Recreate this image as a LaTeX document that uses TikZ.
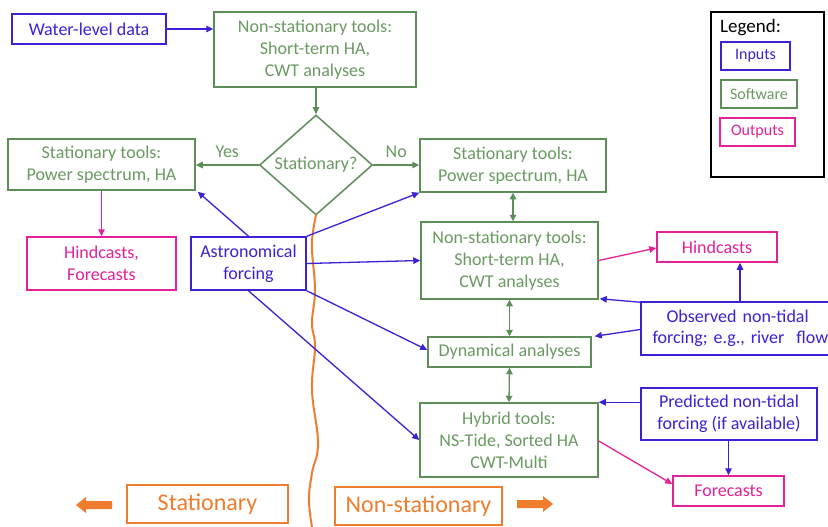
\documentclass[tikz,border=0pt]{standalone}
\usepackage{fontspec}
\setmainfont{Carlito}
\usetikzlibrary{arrows.meta,shapes.geometric,calc}
\definecolor{cin}{HTML}{3B22D4}
\definecolor{csw}{HTML}{5E8E58}
\definecolor{cswt}{HTML}{6A9A62}
\definecolor{cout}{HTML}{E5219A}
\definecolor{cor}{HTML}{EF7D2E}
\begin{document}
\begin{tikzpicture}[x=1pt,y=-1pt,
  box/.style={draw,line width=1.5pt,align=center,inner sep=1pt,font=\fontsize{18}{22}\selectfont},
  inp/.style={box,draw=cin,text=cin},
  sw/.style={box,draw=csw,text=cswt},
  outp/.style={box,draw=cout,text=cout},
  orbox/.style={draw=cor,line width=1.5pt,text=cor,font=\fontsize{24}{26}\selectfont,inner sep=0pt},
  ar/.style={line width=1.3pt,-{Triangle[length=7pt,width=6.5pt]}},
  ia/.style={ar,draw=cin},
  ga/.style={line width=1.3pt,{Triangle[length=6.5pt,width=6.5pt]}-{Triangle[length=6.5pt,width=6.5pt]},draw=csw},
  gs/.style={ar,draw=csw},
  ma/.style={ar,draw=cout},
  lg/.style={box,line width=1.7pt,font=\fontsize{16}{18}\selectfont,minimum height=28pt}
]
\clip (0,0) rectangle (828,527);
\fill[white] (0,0) rectangle (828,527);

% nodes
\node[inp,minimum width=154pt,minimum height=30pt] (wl) at (89,29) {Water-level data};
\node[sw,minimum width=202pt,minimum height=75pt] (ns1) at (315,49.5) {Non-stationary tools:\\Short-term HA,\\CWT analyses};
\node[diamond,draw=csw,line width=1.5pt,text=cswt,inner sep=0pt,minimum width=113pt,minimum height=100pt,font=\fontsize{18}{20}\selectfont] (dia) at (316,165) {Stationary?};
\node[sw,minimum width=187pt,minimum height=51pt] (stL) at (101.5,164.5) {Stationary tools:\\Power spectrum, HA};
\node[sw,minimum width=186pt,minimum height=53pt] (stR) at (513,165.5) {Stationary tools:\\Power spectrum, HA};
\node[outp,minimum width=149pt,minimum height=53pt] (hf) at (101.5,263.5) {Hindcasts,\\Forecasts};
\node[inp,minimum width=115pt,minimum height=53pt] (astro) at (248.5,263.5) {Astronomical\\forcing};
\node[sw,minimum width=177pt,minimum height=77pt] (ns2) at (509.5,260.5) {Non-stationary tools:\\Short-term HA,\\CWT analyses};
\node[outp,minimum width=120pt,minimum height=30pt] (hind) at (717,247) {Hindcasts};
\node[inp,minimum width=195pt,minimum height=53pt,text width=190pt,align=left] (obs) at (738.5,328.5) {\hspace*{23pt}Observed non-tidal\\[-1pt]\hspace*{9pt}forcing; e.g., river\ \ flow};
\node[sw,minimum width=163pt,minimum height=30pt] (dyn) at (509.5,352) {Dynamical analyses};
\node[sw,minimum width=178pt,minimum height=74pt] (hyb) at (509,440) {Hybrid tools:\\NS-Tide, Sorted HA\\CWT-Multi};
\node[inp,minimum width=176pt,minimum height=52pt] (pred) at (729,414) {Predicted non-tidal\\forcing (if available)};
\node[outp,minimum width=111pt,minimum height=30pt] (fc) at (728.5,491) {Forecasts};
\node[orbox,minimum width=161pt,minimum height=38pt] (ost) at (207.5,504) {Stationary};
\node[orbox,minimum width=167pt,minimum height=38pt] (ons) at (418.5,506) {Non-stationary};

% legend
\node[draw=black,line width=2.4pt,minimum width=113pt,minimum height=165pt,inner sep=0pt] (leg) at (767.5,94.5) {};
\node[anchor=west,inner sep=0pt,font=\fontsize{19}{20}\selectfont] (legt) at (720,28) {Legend:};
\node[lg,draw=cin,text=cin,minimum width=69pt] (lin) at (755.5,56) {Inputs};
\node[lg,draw=csw,text=cswt,minimum width=76pt] (lsw) at (759,94) {Software};
\node[lg,draw=cout,text=cout,minimum width=75pt] (lout) at (757.5,132) {Outputs};

% orange wavy divider
\draw[cor,line width=2pt,line cap=round] plot[smooth,tension=0.7] coordinates {(316,215) (313,232) (312,250) (315,290) (312,323) (315,347) (312,390) (318,443) (312,473) (309,500) (312,527)};

% orange block arrows
\fill[cor] (76,505) -- (86,497) -- (86,501) -- (112,501) -- (112,509) -- (86,509) -- (86,513) -- cycle;
\coordinate (la) at (76,505);
\fill[cor] (553,504) -- (543,496) -- (543,500) -- (517,500) -- (517,508) -- (543,508) -- (543,512) -- cycle;
\coordinate (ra) at (553,504);

% connectors
\draw[ia] (wl.east) -- (ns1.west |- wl.east);
\draw[gs] (ns1.south -| dia.north) -- (dia.north);
\draw[gs] (dia.west) -- (stL.east |- dia.west) node[midway,above=3pt,text=cswt,font=\fontsize{18}{20}\selectfont] {Yes};
\draw[gs] (dia.east) -- (stR.west |- dia.east) node[midway,above=3pt,text=cswt,font=\fontsize{18}{20}\selectfont] {No};
\draw[ma] (stL.south) -- (hf.north);
\draw[ia] (astro.north) -- ($(stL.south east)+(2,1)$);
\draw[ia] (astro.north east) -- (stR.south west);
\draw[ia] (astro.east) -- (ns2.west);
\draw[ia] (astro.south east) -- ($(dyn.west)+(0,-2)$);
\draw[ia] (astro.south) -- (hyb.west);
\draw[ga] (stR.south) -- (stR.south |- ns2.north);
\draw[ga] (ns2.south) -- (dyn.north);
\draw[ga] (dyn.south) -- (hyb.north);
\draw[ma] (ns2.east) -- ($(hind.west)+(0,1)$);
\draw[ia] ($(obs.north west)+(0,1)$) -- ($(ns2.south east)+(1,-1)$);
\draw[ia] ($(obs.west)+(0,1)$) -- ($(dyn.north east)+(3,0)$);
\coordinate (hb) at ($(hind.south)+(23,0)$);
\draw[ia] (obs.north -| hb) -- (hb);
\draw[ia] (pred.west |- hyb.north east) -- (hyb.north east);
\draw[ia] (pred.south -| fc.north) -- (fc.north);
\draw[ma] ($(hyb.east)+(0,1)$) -- ($(fc.west)+(0,-7)$);
\end{tikzpicture}
\end{document}
